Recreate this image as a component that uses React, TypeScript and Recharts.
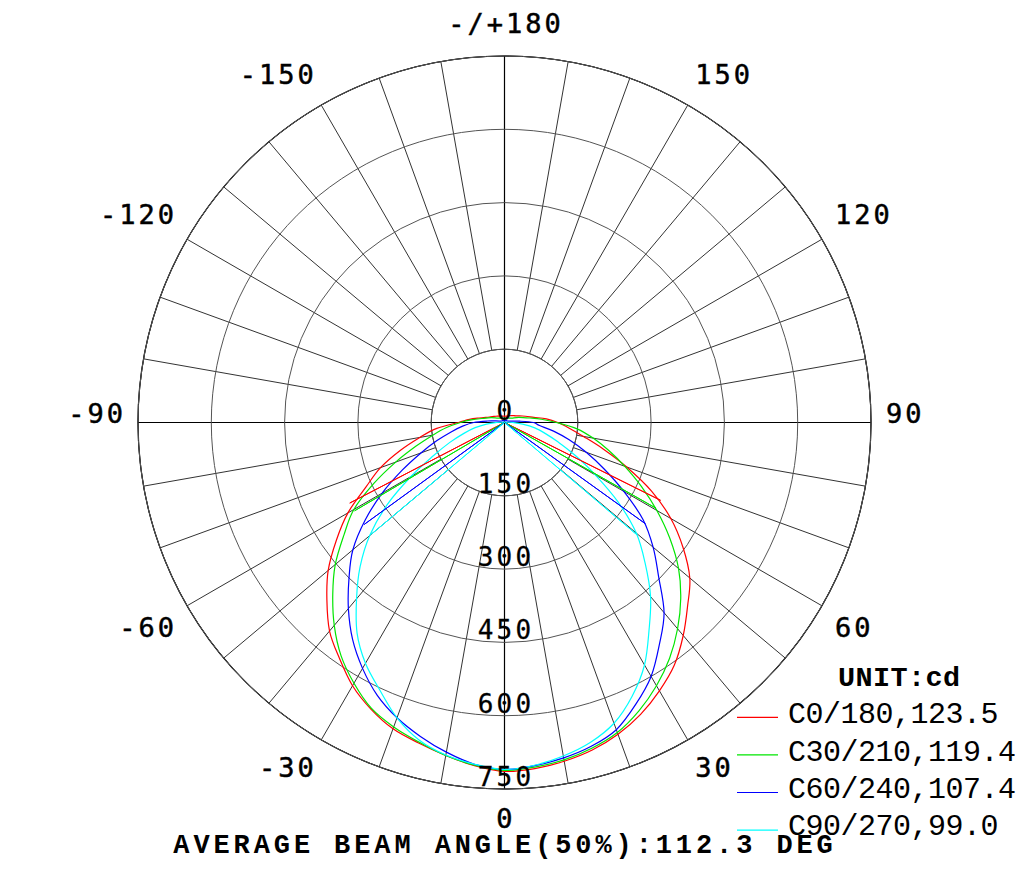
import React from 'react';
import { RadarChart, Radar, PolarGrid, PolarAngleAxis, PolarRadiusAxis } from 'recharts';

const W = 1019;
const H = 860;
const CX = 496.5;
const CY = 414.5;
const R_OUT = 366.5;
const R_IN = 73.3;

// gamma angle in degrees, 0 = straight down, +90 = right
const GAMMA = [
  -180, -170, -160, -150, -140, -130, -120, -110, -100,
  -95, -90, -85, -80, -75, -70, -65, -60, -55, -50, -45, -40, -35, -30, -25, -20, -15, -10, -5,
  0,
  5, 10, 15, 20, 25, 30, 35, 40, 45, 50, 55, 60, 65, 70, 75, 80, 85, 90, 95,
  100, 110, 120, 130, 140, 150, 160, 170, 180,
];

// intensity in cd for each plane
const C0 = [
  13, 13, 14, 15, 17, 20, 25, 33, 53,
  72, 94, 139, 176, 221, 270, 313, 370, 420, 471, 514, 557, 589, 622, 647, 667, 679, 692, 705,
  714,
  711, 704, 694, 679, 659, 634, 606, 569, 530, 495, 446, 393, 332, 266, 209, 164, 133, 109, 86,
  61, 39, 27, 22, 18, 16, 14, 13, 13,
];
const C30 = [
  9, 9, 9, 10, 12, 14, 18, 29, 47,
  66, 90, 119, 149, 188, 237, 295, 356, 401, 452, 497, 542, 583, 616, 645, 663, 677, 692, 704,
  712,
  708, 701, 690, 675, 651, 622, 589, 551, 510, 465, 413, 360, 309, 262, 221, 184, 149, 106, 76,
  53, 31, 18, 14, 12, 10, 9, 9, 9,
];
const C60 = [
  4, 4, 4, 4, 5, 6, 6, 8, 18,
  35, 63, 86, 111, 143, 182, 231, 289, 348, 405, 450, 497, 542, 581, 616, 643, 665, 685, 702,
  710,
  705, 697, 686, 669, 636, 600, 553, 508, 446, 397, 346, 282, 225, 178, 137, 102, 72, 59, 31,
  16, 8, 6, 6, 5, 4, 4, 4, 4,
];
const C90 = [
  1, 1, 1, 1, 1, 1, 1, 1, 2,
  6, 16, 37, 61, 86, 119, 160, 221, 293, 360, 418, 471, 526, 569, 604, 643, 673, 691, 702,
  710,
  704, 693, 678, 655, 618, 573, 516, 465, 407, 352, 284, 215, 160, 117, 86, 63, 37, 16, 6,
  2, 1, 1, 1, 1, 1, 1, 1, 1,
];

// 50% beam lines
const HALF_LEFT = [-62.5, -59.5, -54, -50];
const HALF_RIGHT = [63.5, 60.5, 54.3, 49.7];
const HALF_VALUE = [357, 356, 355, 355];

const SERIES_KEYS = ['c0', 'c30', 'c60', 'c90'];
const SERIES_NAMES = ['C0/180', 'C30/210', 'C60/240', 'C90/270'];
const SERIES_FLUX = [123.5, 119.4, 107.4, 99.0];
const COLORS = ['#ff0000', '#00e600', '#0000ff', '#00ffff'];

const LABEL_TICKS = [-180, -150, -120, -90, -60, -30, 0, 30, 60, 90, 120, 150];
const AXIS_TICKS = [-180, -90, 0, 90];
const SPOKE_TICKS = [
  -170, -160, -150, -140, -130, -120, -110, -100, -80, -70, -60, -50, -40, -30, -20, -10,
  10, 20, 30, 40, 50, 60, 70, 80, 100, 110, 120, 130, 140, 150, 160, 170,
];

const rows: any[] = GAMMA.map((a, i) => ({ a, c0: C0[i], c30: C30[i], c60: C60[i], c90: C90[i] }));
const centre: any = { a: 0 };
SERIES_KEYS.forEach((k) => (centre['h' + k] = 0));
SERIES_KEYS.forEach((k, i) => rows.push({ a: HALF_LEFT[i], ['h' + k]: HALF_VALUE[i] }));
rows.push({ ...centre });
SERIES_KEYS.forEach((k, i) => rows.push({ a: HALF_RIGHT[i], ['h' + k]: HALF_VALUE[i] }));
rows.push({ ...centre });

// closed catmull-rom through the points recharts placed
const SmoothShape = (props: any) => {
  let pts = (props.points || []).filter(
    (p: any) => p.value != null && Number.isFinite(p.x) && Number.isFinite(p.y),
  );
  if (pts.length > 2) {
    const a = pts[0];
    const b = pts[pts.length - 1];
    if (Math.hypot(a.x - b.x, a.y - b.y) < 0.5) pts = pts.slice(0, -1);
  }
  const n = pts.length;
  if (n < 2) return null;
  let d = `M${pts[0].x},${pts[0].y}`;
  for (let i = 0; i < n; i++) {
    const p0 = pts[(i - 1 + n) % n];
    const p1 = pts[i];
    const p2 = pts[(i + 1) % n];
    const p3 = pts[(i + 2) % n];
    const c1x = p1.x + (p2.x - p0.x) / 6;
    const c1y = p1.y + (p2.y - p0.y) / 6;
    const c2x = p2.x - (p3.x - p1.x) / 6;
    const c2y = p2.y - (p3.y - p1.y) / 6;
    d += ` C${c1x},${c1y} ${c2x},${c2y} ${p2.x},${p2.y}`;
  }
  return <path d={d + 'Z'} fill="none" stroke={props.stroke} strokeWidth={props.strokeWidth} />;
};

const TICK_FONT = 'DejaVu Sans Mono, monospace';
const LS = 3;

const AngleTick = (props: any) => {
  const { x, y, payload, textAnchor } = props;
  const dy = y < CY - 1 ? -8 : y > CY + 1 ? 24 : 0;
  const shift = textAnchor === 'end' ? LS : textAnchor === 'middle' ? LS / 2 : 0;
  const label = payload.value === -180 ? '-/+180' : String(payload.value);
  return (
    <text x={x + shift} y={y + dy} textAnchor={textAnchor} fontFamily={TICK_FONT} fontSize={27}
      letterSpacing={LS} stroke="#000" strokeWidth={0.5} fill="#000">
      {label}
    </text>
  );
};

const RadiusTick = (props: any) => {
  const { x, y, payload } = props;
  return (
    <text x={x + 1.5} y={y - 3} textAnchor="middle" fontFamily={TICK_FONT} fontSize={26}
      letterSpacing={3.2} stroke="#000" strokeWidth={0.3} fill="#000">
      {payload.value}
    </text>
  );
};

const layer: React.CSSProperties = { position: 'absolute', left: 0, top: 0 };
const noMargin = { top: 0, right: 0, bottom: 0, left: 0 };

export default function App() {
  return (
    <div style={{ position: 'relative', width: W, height: H, background: '#fff' }}>
      {/* 10 degree spokes between inner ring and outer ring */}
      <div style={layer}>
        <RadarChart width={W} height={H} data={rows} cx={CX} cy={CY} innerRadius={R_IN}
          outerRadius={R_OUT} startAngle={-270} endAngle={90} margin={noMargin}>
          <PolarGrid gridType="circle" stroke="#333" strokeWidth={1} />
          <PolarAngleAxis type="number" dataKey="a" domain={[-180, 180]} ticks={SPOKE_TICKS}
            tick={false} axisLine={false} tickLine={false} />
          <PolarRadiusAxis domain={[0, 750]} tickCount={2} tick={false} axisLine={false} />
          <Radar dataKey="c0" stroke="none" fill="none" dot={false} isAnimationActive={false} />
        </RadarChart>
      </div>
      {/* main axes through the centre */}
      <div style={layer}>
        <RadarChart width={W} height={H} data={rows} cx={CX} cy={CY} innerRadius={0}
          outerRadius={R_OUT} startAngle={-270} endAngle={90} margin={noMargin}>
          <PolarGrid gridType="circle" stroke="#000" strokeWidth={1.2} />
          <PolarAngleAxis type="number" dataKey="a" domain={[-180, 180]} ticks={AXIS_TICKS}
            tick={false} axisLine={false} tickLine={false} />
          <PolarRadiusAxis domain={[0, 750]} tickCount={2} tick={false} axisLine={false} />
          <Radar dataKey="c0" stroke="none" fill="none" dot={false} isAnimationActive={false} />
        </RadarChart>
      </div>
      {/* rings, curves and labels */}
      <div style={layer}>
        <RadarChart width={W} height={H} data={rows} cx={CX} cy={CY} innerRadius={0}
          outerRadius={R_OUT} startAngle={-270} endAngle={90} margin={noMargin}>
          <PolarGrid gridType="circle" radialLines={false} stroke="#555" strokeWidth={1} />
          <PolarAngleAxis type="number" dataKey="a" domain={[-180, 180]} ticks={LABEL_TICKS}
            tick={<AngleTick />} tickSize={15} axisLine={false} tickLine={false} />
          <PolarRadiusAxis angle={-90} domain={[0, 750]} tickCount={6} tick={<RadiusTick />}
            axisLine={false} tickLine={false} />
          {SERIES_KEYS.map((k, i) => (
            <Radar key={k} dataKey={k} stroke={COLORS[i]} strokeWidth={1.2} fill="none"
              dot={false} connectNulls shape={SmoothShape} isAnimationActive={false} />
          ))}
          {SERIES_KEYS.map((k, i) => (
            <Radar key={'h' + k} dataKey={'h' + k} stroke={COLORS[i]} strokeWidth={1} fill="none"
              dot={false} connectNulls isAnimationActive={false} />
          ))}
        </RadarChart>
      </div>
      {/* legend and beam angle note */}
      <svg width={W} height={H} style={layer}>
        <text x={830} y={678} fontFamily="Liberation Mono, monospace" fontWeight="bold"
          fontSize={28.5} letterSpacing={0.4} fill="#000">
          UNIT:cd
        </text>
        {SERIES_NAMES.map((n, i) => (
          <g key={n}>
            <line x1={729} x2={770} y1={709.3 + i * 37.6} y2={709.3 + i * 37.6} stroke={COLORS[i]}
              strokeWidth={1.2} />
            <text x={780} y={715.3 + i * 37.3} fontFamily="Liberation Mono, monospace" fontSize={30}
              letterSpacing={-0.5} fill="#000">
              {n + ',' + SERIES_FLUX[i].toFixed(1)}
            </text>
          </g>
        ))}
        <text x={165.3} y={845.3} fontFamily="Liberation Mono, monospace" fontWeight="bold"
          fontSize={27} letterSpacing={3.9} fill="#000">
          AVERAGE BEAM ANGLE(50%):112.3 DEG
        </text>
      </svg>
    </div>
  );
}
